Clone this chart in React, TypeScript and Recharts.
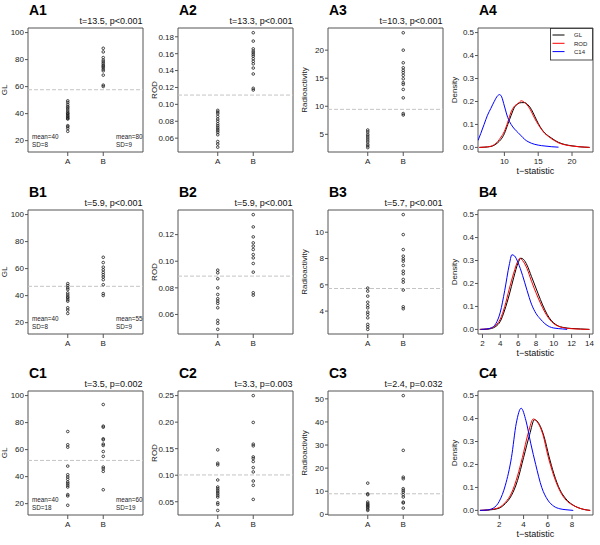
import React from 'react';
import { ComposedChart, Scatter, Line, XAxis, YAxis, ReferenceLine, ReferenceArea } from 'recharts';

const FONT = '"Liberation Sans", Arial, Helvetica, sans-serif';
const groups = ['A', 'B'];

// ---- scatter panel data ----
const a1A = [49.5, 48.3, 46.8, 45.4, 44.5, 43.4, 42, 40.9, 40, 39.7, 38.5, 38, 37.2, 36.5, 36, 31.1, 30.3, 29, 26.9];
const a1B = [88.4, 85.7, 81.5, 79.6, 78.3, 77.1, 75.9, 75, 74.2, 72.9, 71.7, 68.5, 61.1, 60.1];
const a2A = [0.0929, 0.0909, 0.0889, 0.0857, 0.0826, 0.08, 0.077, 0.0747, 0.0727, 0.0707, 0.0687, 0.0667, 0.064, 0.056, 0.053, 0.0493];
const a2B = [0.1848, 0.1749, 0.1657, 0.163, 0.161, 0.159, 0.157, 0.154, 0.151, 0.148, 0.143, 0.136, 0.119, 0.117];
const a3A = [5.77, 5.42, 5.0, 4.7, 4.35, 4.0, 3.64, 3.22, 2.93, 2.63];
const a3B = [23.1, 20, 17.75, 16.86, 16.4, 16, 15.5, 14.9, 14.2, 13.9, 13, 11.5, 8.7, 8.44];
const b1A = [48.9, 47.4, 45.7, 44.5, 42, 40.5, 39.1, 38.3, 37, 35.9, 31, 29.3, 26.8];
const b1B = [68.4, 64.5, 61.1, 59.1, 57.2, 55.5, 53.8, 51.8, 48.1, 41.5, 40.1];
const b2A = [0.0933, 0.0913, 0.0868, 0.08, 0.075, 0.0718, 0.07, 0.0683, 0.065, 0.0555, 0.0533, 0.0488];
const b2B = [0.135, 0.1258, 0.1183, 0.1138, 0.1113, 0.1088, 0.105, 0.1025, 0.0983, 0.0918, 0.0763, 0.0745];
const b3A = [5.75, 5.52, 5.14, 4.68, 4.43, 4.25, 3.92, 3.75, 3.49, 2.99, 2.81, 2.61];
const b3B = [11.34, 9.82, 8.68, 8.18, 7.97, 7.8, 7.47, 7.04, 6.84, 6.41, 6.2, 5.6, 4.33, 4.18];
const c1A = [73.4, 63.6, 61.8, 47.8, 41.4, 39.7, 38, 36, 34.8, 33.6, 32.3, 26.7, 25.7, 18.8];
const c1B = [93.4, 77.4, 76.6, 68, 67.3, 64.1, 63.1, 58.6, 55, 47.1, 45.8, 43.9, 30.3];
const c2A = [0.1478, 0.1226, 0.1194, 0.091, 0.0778, 0.0746, 0.0715, 0.0683, 0.0651, 0.062, 0.0588, 0.0481, 0.045, 0.0336];
const c2B = [0.25, 0.1995, 0.1585, 0.1553, 0.1345, 0.1314, 0.1257, 0.1143, 0.1062, 0.0891, 0.0809, 0.0544];
const c3A = [13.5, 8.9, 8.5, 5.3, 4.6, 4.2, 3.75, 3.3, 2.9, 2.2, 1.7];
const c3B = [51.4, 27.7, 16.1, 15.4, 11.1, 10.4, 9.65, 8.5, 7.5, 5.3, 4.9, 2.7];

// ---- density panel data ----
const a4GLt = [6.3, 7, 8, 9, 9.5, 10, 10.5, 11, 11.5, 12, 12.5, 13, 13.5, 14, 14.5, 15, 15.5, 16, 16.5, 17, 17.5, 18, 19, 20, 21, 22.6];
const a4GLd = [0, 0.001, 0.004, 0.02, 0.035, 0.06, 0.1, 0.14, 0.175, 0.19, 0.195, 0.195, 0.185, 0.165, 0.135, 0.105, 0.08, 0.062, 0.05, 0.04, 0.03, 0.022, 0.012, 0.007, 0.003, 0];
const a4RODt = [6.3, 7, 8, 9, 9.5, 10, 10.5, 11, 11.5, 12, 12.5, 13, 13.5, 14, 14.5, 15, 15.5, 16, 16.5, 17, 17.5, 18, 19, 20, 21, 22.6];
const a4RODd = [0, 0.001, 0.005, 0.025, 0.045, 0.07, 0.11, 0.155, 0.18, 0.19, 0.203, 0.195, 0.18, 0.155, 0.125, 0.1, 0.078, 0.06, 0.048, 0.037, 0.028, 0.02, 0.011, 0.006, 0.003, 0];
const a4C14t = [6.1, 6.5, 7, 7.5, 8, 8.5, 9, 9.3, 9.6, 10, 10.5, 11, 11.5, 12, 12.5, 13, 13.5, 14, 15, 16, 17, 18];
const a4C14d = [0.03, 0.06, 0.1, 0.14, 0.17, 0.2, 0.225, 0.23, 0.22, 0.18, 0.13, 0.1, 0.08, 0.065, 0.05, 0.035, 0.025, 0.018, 0.01, 0.006, 0.003, 0.001];

const b4GLt = [1.7, 2.5, 3, 3.5, 4, 4.5, 5, 5.5, 6, 6.3, 6.6, 7, 7.5, 8, 8.5, 9, 9.5, 10, 10.5, 11, 12, 13, 14];
const b4GLd = [0, 0.001, 0.004, 0.013, 0.035, 0.085, 0.15, 0.225, 0.29, 0.31, 0.305, 0.28, 0.23, 0.18, 0.13, 0.085, 0.05, 0.028, 0.015, 0.009, 0.004, 0.002, 0];
const b4RODt = [1.7, 2.5, 3, 3.5, 4, 4.5, 5, 5.5, 6, 6.2, 6.5, 7, 7.5, 8, 8.5, 9, 9.5, 10, 10.5, 11, 12, 13, 14];
const b4RODd = [0, 0.002, 0.006, 0.018, 0.045, 0.1, 0.175, 0.245, 0.3, 0.31, 0.3, 0.265, 0.21, 0.16, 0.115, 0.075, 0.045, 0.025, 0.014, 0.008, 0.003, 0.001, 0];
const b4C14t = [1.8, 2.5, 3, 3.5, 4, 4.5, 5, 5.3, 5.6, 6, 6.5, 7, 7.5, 8, 8.5, 9, 9.5, 10, 11, 11.5];
const b4C14d = [0, 0.002, 0.007, 0.025, 0.075, 0.17, 0.28, 0.325, 0.32, 0.29, 0.235, 0.17, 0.11, 0.07, 0.045, 0.025, 0.012, 0.006, 0.002, 0];

const c4GLt = [0.4, 1, 1.5, 2, 2.5, 3, 3.5, 4, 4.5, 4.9, 5.3, 5.7, 6.1, 6.5, 7, 7.5, 8, 8.5, 9, 9.5];
const c4GLd = [0, 0.001, 0.004, 0.01, 0.03, 0.065, 0.13, 0.23, 0.33, 0.395, 0.375, 0.32, 0.235, 0.16, 0.09, 0.05, 0.026, 0.012, 0.004, 0];
const c4RODt = [0.4, 1, 1.5, 2, 2.5, 3, 3.5, 3.9, 4.4, 4.8, 5.2, 5.6, 6, 6.5, 7, 7.5, 8, 8.5, 9, 9.5];
const c4RODd = [0, 0.002, 0.006, 0.013, 0.035, 0.075, 0.15, 0.23, 0.34, 0.398, 0.38, 0.33, 0.24, 0.15, 0.085, 0.045, 0.025, 0.012, 0.004, 0];
const c4C14t = [0.4, 1, 1.5, 2, 2.5, 3, 3.4, 3.8, 4.2, 4.6, 5, 5.5, 6, 6.5, 7, 7.5, 8.1];
const c4C14d = [0, 0.002, 0.01, 0.04, 0.11, 0.23, 0.38, 0.445, 0.39, 0.29, 0.2, 0.1, 0.045, 0.018, 0.007, 0.003, 0];

const densTicks = [0, 0.1, 0.2, 0.3, 0.4, 0.5];
const seriesNames = ['GL', 'ROD', 'C14'];
const seriesColors = ['#000000', '#ff0000', '#0000ff'];

const W = 150;
const H = 182;
const MARGIN = { top: 28, right: 7, bottom: 0, left: 0 };
const tickStyle = { fontSize: 8, fill: '#222', fontFamily: FONT };
const BOX = '#555';

const toPts = (arr: number[], x: number) => arr.map((y) => ({ x, y }));
const zip = (t: number[], d: number[]) => t.map((v, i) => ({ t: v, d: d[i] }));

const Dot = (p: any) => (
  <circle cx={p.cx} cy={p.cy} r={1.3} fill="none" stroke="#1a1a1a" strokeWidth={0.8} />
);

type ScCfg = {
  label: string; title: string; ylab: string; a: number[]; b: number[]; line: number;
  yDom: [number, number]; yTicks: number[]; fmt: (v: number) => string;
  ann?: [string, string, string, string];
};

const f0 = (v: number) => String(v);
const f2 = (v: number) => v.toFixed(2);

const scatterPanels: (ScCfg & { col: number; row: number })[] = [
  { col: 0, row: 0, label: 'A1', title: 't=13.5, p<0.001', ylab: 'GL', a: a1A, b: a1B, line: 57.7, yDom: [11.6, 103.4], yTicks: [20, 40, 60, 80, 100], fmt: f0, ann: ['mean=40', 'SD=8', 'mean=80', 'SD=9'] },
  { col: 1, row: 0, label: 'A2', title: 't=13.3, p<0.001', ylab: 'ROD', a: a2A, b: a2B, line: 0.111, yDom: [0.0436, 0.1904], yTicks: [0.06, 0.08, 0.1, 0.12, 0.14, 0.16, 0.18], fmt: f2 },
  { col: 2, row: 0, label: 'A3', title: 't=10.3, p<0.001', ylab: 'Radioactivity', a: a3A, b: a3B, line: 9.45, yDom: [1.85, 23.95], yTicks: [5, 10, 15, 20], fmt: f0 },
  { col: 0, row: 1, label: 'B1', title: 't=5.9, p<0.001', ylab: 'GL', a: b1A, b: b1B, line: 46.9, yDom: [11.6, 103.4], yTicks: [20, 40, 60, 80, 100], fmt: f0, ann: ['mean=40', 'SD=8', 'mean=55', 'SD=9'] },
  { col: 1, row: 1, label: 'B2', title: 't=5.9, p<0.001', ylab: 'ROD', a: b2A, b: b2B, line: 0.0888, yDom: [0.0453, 0.1385], yTicks: [0.06, 0.08, 0.1, 0.12], fmt: f2 },
  { col: 2, row: 1, label: 'B3', title: 't=5.7, p<0.001', ylab: 'Radioactivity', a: b3A, b: b3B, line: 5.72, yDom: [2.26, 11.69], yTicks: [4, 6, 8, 10], fmt: f0 },
  { col: 0, row: 2, label: 'C1', title: 't=3.5, p=0.002', ylab: 'GL', a: c1A, b: c1B, line: 52, yDom: [11.6, 103.4], yTicks: [20, 40, 60, 80, 100], fmt: f0, ann: ['mean=40', 'SD=18', 'mean=60', 'SD=19'] },
  { col: 1, row: 2, label: 'C2', title: 't=3.3, p=0.003', ylab: 'ROD', a: c2A, b: c2B, line: 0.1005, yDom: [0.025, 0.2587], yTicks: [0.05, 0.1, 0.15, 0.2, 0.25], fmt: f2 },
  { col: 2, row: 2, label: 'C3', title: 't=2.4, p=0.032', ylab: 'Radioactivity', a: c3A, b: c3B, line: 8.9, yDom: [-0.29, 53.4], yTicks: [0, 10, 20, 30, 40, 50], fmt: f0 },
];

const densityPanels = [
  { col: 3, row: 0, label: 'A4', xDom: [6.1, 23.1], xTicks: [10, 15, 20], legend: true, curves: [zip(a4GLt, a4GLd), zip(a4RODt, a4RODd), zip(a4C14t, a4C14d)] },
  { col: 3, row: 1, label: 'B4', xDom: [1.5, 14.4], xTicks: [2, 4, 6, 8, 10, 12, 14], legend: false, curves: [zip(b4GLt, b4GLd), zip(b4RODt, b4RODd), zip(b4C14t, b4C14d)] },
  { col: 3, row: 2, label: 'C4', xDom: [0.24, 9.73], xTicks: [2, 4, 6, 8], legend: false, curves: [zip(c4GLt, c4GLd), zip(c4RODt, c4RODd), zip(c4C14t, c4C14d)] },
];

const rowTop = [0, 182, 363];

function PanelLabel({ text }: { text: string }) {
  return <text x={29} y={15} fontSize={14} fontWeight="bold" fontFamily={FONT} fill="#000">{text}</text>;
}

function YLab({ text }: { text: string }) {
  return (
    <text x={7} y={90} fontSize={8} fontFamily={FONT} fill="#222" textAnchor="middle" transform="rotate(-90 7 90)">{text}</text>
  );
}

function ScatterPanel({ cfg }: { cfg: ScCfg & { col: number; row: number } }) {
  const xDom: [number, number] = [-0.12, 3.12];
  return (
    <div style={{ position: 'absolute', left: cfg.col * 150, top: rowTop[cfg.row], width: W, height: H }}>
      <ComposedChart width={W} height={H} margin={MARGIN}>
        <XAxis type="number" dataKey="x" domain={xDom} ticks={[1, 2]} interval={0}
          tickFormatter={(v: number) => groups[v - 1]} allowDataOverflow axisLine={false}
          tickSize={4} height={30} tick={tickStyle} tickLine={{ stroke: BOX }} />
        <YAxis type="number" dataKey="y" domain={cfg.yDom} ticks={cfg.yTicks} interval={0}
          tickFormatter={cfg.fmt} allowDataOverflow axisLine={false} width={28}
          tickSize={3} tickMargin={1} tick={tickStyle} tickLine={{ stroke: BOX }} />
        <ReferenceArea x1={xDom[0]} x2={xDom[1]} y1={cfg.yDom[0]} y2={cfg.yDom[1]}
          fill="none" fillOpacity={0} stroke={BOX} strokeWidth={1} ifOverflow="visible" />
        <ReferenceLine y={cfg.line} stroke="#c4c4c4" strokeDasharray="4 2" strokeWidth={1} />
        <Scatter data={toPts(cfg.a, 1)} dataKey="y" isAnimationActive={false} shape={Dot} />
        <Scatter data={toPts(cfg.b, 2)} dataKey="y" isAnimationActive={false} shape={Dot} />
      </ComposedChart>
      <svg width={W} height={H} style={{ position: 'absolute', left: 0, top: 0, pointerEvents: 'none' }}>
        <PanelLabel text={cfg.label} />
        <text x={142.5} y={24} fontSize={9} fontFamily={FONT} fill="#111" textAnchor="end">{cfg.title}</text>
        <YLab text={cfg.ylab} />
        {cfg.ann && (
          <g fontSize={6.3} fontFamily={FONT} fill="#222">
            <text x={32} y={138.5}>{cfg.ann[0]}</text>
            <text x={32} y={146.5}>{cfg.ann[1]}</text>
            <text x={116} y={138.5}>{cfg.ann[2]}</text>
            <text x={116} y={146.5}>{cfg.ann[3]}</text>
          </g>
        )}
      </svg>
    </div>
  );
}

function DensityPanel({ cfg }: { cfg: typeof densityPanels[number] }) {
  const yDom: [number, number] = [-0.02, 0.52];
  const xDom = cfg.xDom as [number, number];
  return (
    <div style={{ position: 'absolute', left: cfg.col * 150, top: rowTop[cfg.row], width: W, height: H }}>
      <ComposedChart width={W} height={H} margin={MARGIN}>
        <XAxis type="number" dataKey="t" domain={xDom} ticks={cfg.xTicks} interval={0}
          allowDataOverflow axisLine={false} tickSize={4} height={30} tick={tickStyle} tickLine={{ stroke: BOX }} />
        <YAxis type="number" domain={yDom} ticks={densTicks} interval={0}
          tickFormatter={(v: number) => v.toFixed(1)} allowDataOverflow axisLine={false} width={28}
          tickSize={3} tickMargin={1} tick={tickStyle} tickLine={{ stroke: BOX }} />
        <ReferenceArea x1={xDom[0]} x2={xDom[1]} y1={yDom[0]} y2={yDom[1]}
          fill="none" fillOpacity={0} stroke={BOX} strokeWidth={1} ifOverflow="visible" />
        {cfg.curves.map((c, i) => (
          <Line key={seriesNames[i]} data={c} dataKey="d" type="monotone" stroke={seriesColors[i]}
            strokeWidth={1} dot={false} isAnimationActive={false} />
        ))}
      </ComposedChart>
      <svg width={W} height={H} style={{ position: 'absolute', left: 0, top: 0, pointerEvents: 'none' }}>
        <PanelLabel text={cfg.label} />
        <YLab text="Density" />
        <text x={85.5} y={174} fontSize={9} fontFamily={FONT} fill="#111" textAnchor="middle">t−statistic</text>
        {cfg.legend && (
          <g>
            <rect x={100.5} y={28.5} width={42} height={31.5} fill="#fff" stroke="#222" strokeWidth={0.8} />
            {seriesNames.map((n, i) => (
              <g key={n}>
                <line x1={102.5} x2={114.5} y1={35 + i * 8.3} y2={35 + i * 8.3} stroke={seriesColors[i]} strokeWidth={1} />
                <text x={124} y={37.2 + i * 8.3} fontSize={6} fontFamily={FONT} fill="#222">{n}</text>
              </g>
            ))}
          </g>
        )}
      </svg>
    </div>
  );
}

export default function App() {
  return (
    <div style={{ position: 'absolute', left: 0, top: 0, width: 600, height: 545, background: '#fff', overflow: 'hidden' }}>
      {scatterPanels.map((p) => <ScatterPanel key={p.label} cfg={p} />)}
      {densityPanels.map((p) => <DensityPanel key={p.label} cfg={p} />)}
    </div>
  );
}
